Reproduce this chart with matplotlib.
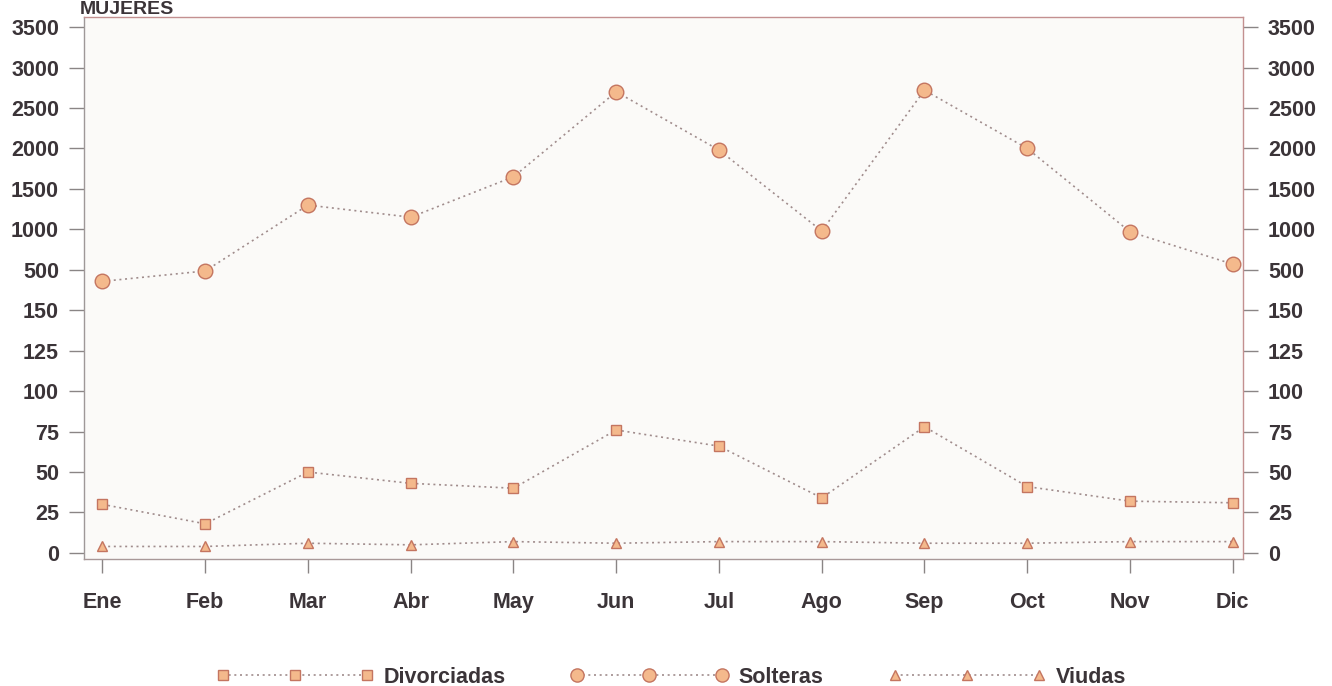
import numpy as np
import matplotlib
matplotlib.use("Agg")
import matplotlib.pyplot as plt

# values (broken axis: 0-150 by 25, then 500-3500 by 500)
meses = ["Ene", "Feb", "Mar", "Abr", "May", "Jun", "Jul", "Ago", "Sep", "Oct", "Nov", "Dic"]
divorciadas = [30, 18, 50, 43, 40, 76, 66, 34, 78, 41, 32, 31]
solteras = [400, 490, 1300, 1150, 1650, 2700, 1980, 980, 2720, 2000, 970, 570]
viudas = [4, 4, 6, 5, 7, 6, 7, 7, 6, 6, 7, 7]
yticks = [0, 25, 50, 75, 100, 125, 150, 500, 1000, 1500, 2000, 2500, 3000, 3500]

# piecewise scale: each tick step gets the same height
brk_v = [-250, 0, 150, 500, 3500, 10000]
brk_u = [-10, 0, 6, 7, 13, 26]

def fwd(v):
    return np.interp(v, brk_v, brk_u)

def inv(u):
    return np.interp(u, brk_u, brk_v)

txt = "#3b3438"
line_c = "#a08c8c"
fill_c = "#f4b98c"
edge_c = "#c47560"

plt.rcParams['font.family'] = ['Liberation Sans', 'DejaVu Sans']

fig = plt.figure(figsize=(13.32, 6.86), dpi=100)
ax = fig.add_axes([84/1332, 1 - 559/686, (1243-84)/1332, (559-17)/686])
ax.set_facecolor("#fbfaf8")
ax.set_yscale("function", functions=(fwd, inv))

x = np.arange(len(meses))
ls = (0, (1.2, 2.2))
ax.plot(x, divorciadas, ls=ls, color=line_c, lw=1.2, marker="s", ms=7.5,
        mfc=fill_c, mec=edge_c, mew=1.0, label="Divorciadas")
ax.plot(x, solteras, ls=ls, color=line_c, lw=1.2, marker="o", ms=10.5,
        mfc=fill_c, mec=edge_c, mew=1.0, label="Solteras")
ax.plot(x, viudas, ls=ls, color=line_c, lw=1.2, marker="^", ms=7.5,
        mfc=fill_c, mec=edge_c, mew=1.0, label="Viudas")

ax.set_xlim(-0.18, 11.1)
ax.set_ylim(inv(-0.15), inv(13.25))
ax.set_yticks(yticks)
ax.set_yticklabels([str(t) for t in yticks])
ax.yaxis.set_minor_locator(matplotlib.ticker.NullLocator())
ax.set_xticks(x)
ax.set_xticklabels(meses)

ax.tick_params(axis="y", left=True, right=True, labelleft=True, labelright=True,
               length=11, width=1.0, color="#8a8585", pad=7,
               labelsize=15.5, labelcolor=txt)
ax.tick_params(axis="x", length=10, width=1.0, color="#8a8585", pad=14,
               labelsize=15.5, labelcolor=txt)
for lab in ax.get_xticklabels():
    lab.set_fontweight("bold")
for t in ax.yaxis.get_major_ticks():
    t.label1.set_fontweight("bold")
    t.label2.set_fontweight("bold")

ax.spines["left"].set_color("#9e9898")
ax.spines["bottom"].set_color("#a89898")
ax.spines["top"].set_color("#c39090")
ax.spines["right"].set_color("#c39090")
for s in ax.spines.values():
    s.set_linewidth(1.0)

fig.text(80/1332, 1 - 14/686, "MUJERES", fontsize=14, fontweight="bold",
         color=txt, va="baseline", ha="left")

leg = fig.legend(loc="lower center", bbox_to_anchor=(0.504, -0.031), ncol=3,
                 frameon=False, numpoints=3, handlelength=7.3,
                 columnspacing=3.0, handletextpad=0.5,
                 prop={"size": 15.5, "weight": "bold"})
for t in leg.get_texts():
    t.set_color(txt)
for h, m in zip(leg.legend_handles, [6.5, 9.5, 7]):
    h.set_markersize(m)

fig.savefig("out.png", dpi=100)
